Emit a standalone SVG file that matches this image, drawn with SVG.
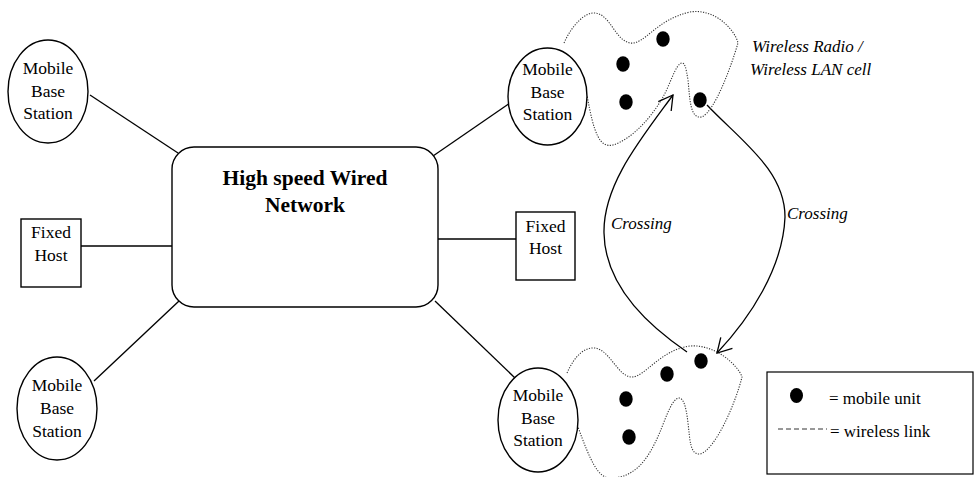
<svg xmlns="http://www.w3.org/2000/svg" width="975" height="477" viewBox="0 0 975 477">
<style>
.shape{fill:#fff;stroke:#000;stroke-width:1.4}
.ln{fill:none;stroke:#000;stroke-width:1.3}
.cell{fill:none;stroke:#333;stroke-width:1.1;stroke-dasharray:1.2 1.4}
.dot{fill:#000}
text{font-family:"Liberation Serif","Times New Roman",serif;fill:#000}
.t{font-size:17.5px;text-anchor:middle}
.it{font-size:17px;font-style:italic}
.b{font-size:21.5px;font-weight:bold;text-anchor:middle}
.lg{font-size:17px}
</style>
<defs>
<marker id="chev" markerUnits="userSpaceOnUse" markerWidth="24" markerHeight="24" viewBox="-18 -12 24 24" refX="0" refY="0" orient="auto">
<path d="M-14,-8 L0,0 L-14,8" fill="none" stroke="#000" stroke-width="1.3"/>
</marker>
</defs>
<rect width="975" height="477" fill="#fff"/>
<g id="connectors">
<line class="ln" x1="90" y1="95" x2="178" y2="153"/>
<line class="ln" x1="81" y1="246" x2="172" y2="246"/>
<line class="ln" x1="94" y1="381" x2="179" y2="301"/>
<line class="ln" x1="433" y1="156" x2="510" y2="103"/>
<line class="ln" x1="438" y1="239" x2="516" y2="239"/>
<line class="ln" x1="435" y1="301" x2="515" y2="378"/>
<path class="ln" d="M687,352 C655,330 605,290 604,233 C603,185 640,140 673,95" marker-end="url(#chev)"/>
<path class="ln" d="M707,105 C740,140 785,170 785,217 C783,268 750,318 717,353" marker-end="url(#chev)"/>
</g>
<g id="network">
<rect class="shape" x="172" y="147" width="266" height="160" rx="22" ry="22"/>
<text class="b" x="305" y="185">High speed Wired</text>
<text class="b" x="305" y="212">Network</text>
</g>
<g id="mbs-top-left">
<ellipse class="shape" cx="48" cy="91.5" rx="40" ry="51.5"/>
<text class="t" x="48" y="74">Mobile</text>
<text class="t" x="48" y="96.5">Base</text>
<text class="t" x="48" y="119">Station</text>
</g>
<g id="fixed-host-left">
<rect class="shape" x="21" y="219" width="60" height="68"/>
<text class="t" x="51" y="238">Fixed</text>
<text class="t" x="51" y="261">Host</text>
</g>
<g id="mbs-bottom-left">
<ellipse class="shape" cx="57" cy="408.5" rx="40" ry="51.5"/>
<text class="t" x="57" y="391">Mobile</text>
<text class="t" x="57" y="414">Base</text>
<text class="t" x="57" y="437">Station</text>
</g>
<g id="cell-top">
<path class="cell" d="M564,43 C572,25 585,12 595,13 C610,14 615,40 630,43 C645,45 655,20 690,12 C715,8 735,30 738,43 C730,70 715,110 702,117 C690,119 690,100 688,80 C686,68 685,63 682,63 C676,63 670,85 663,97 C650,120 630,140 613,145 C600,148 594,135 587,95"/>
<ellipse class="dot" cx="663" cy="39" rx="6.7" ry="7.8"/>
<ellipse class="dot" cx="623" cy="64" rx="6.7" ry="7.8"/>
<ellipse class="dot" cx="626" cy="102" rx="6.7" ry="7.8"/>
<ellipse class="dot" cx="700" cy="100" rx="6.7" ry="7.8"/>
<text class="it" x="752" y="52">Wireless Radio /</text>
<text class="it" x="750" y="75">Wireless LAN cell</text>
</g>
<g id="mbs-top-right">
<ellipse class="shape" cx="547.5" cy="96.5" rx="39.5" ry="48.5"/>
<text class="t" x="547.5" y="75">Mobile</text>
<text class="t" x="547.5" y="97.5">Base</text>
<text class="t" x="547.5" y="120">Station</text>
</g>
<g id="fixed-host-right">
<rect class="shape" x="516" y="212" width="59" height="68"/>
<text class="t" x="545.5" y="232">Fixed</text>
<text class="t" x="545.5" y="254">Host</text>
</g>
<g id="cell-bottom">
<path class="cell" d="M567,373 C575,355 585,347 595,348 C610,350 618,377 632,377 C645,377 660,350 690,346 C715,344 738,365 742,377 C735,405 715,450 700,454 C690,455 690,440 688,423 C686,405 683,398 679,398 C672,398 665,420 660,432 C648,460 635,478 610,478 C598,478 590,460 578,427"/>
<ellipse class="dot" cx="701" cy="361" rx="6.7" ry="7.8"/>
<ellipse class="dot" cx="667" cy="374" rx="6.7" ry="7.8"/>
<ellipse class="dot" cx="626" cy="399" rx="6.7" ry="7.8"/>
<ellipse class="dot" cx="629" cy="437" rx="6.7" ry="7.8"/>
</g>
<g id="mbs-bottom-right">
<ellipse class="shape" cx="538" cy="420" rx="40" ry="52"/>
<text class="t" x="538" y="401">Mobile</text>
<text class="t" x="538" y="423.5">Base</text>
<text class="t" x="538" y="446">Station</text>
</g>
<g id="crossing-labels">
<text class="it" x="611" y="229">Crossing</text>
<text class="it" x="787" y="219">Crossing</text>
</g>
<g id="legend">
<rect x="767" y="372" width="206" height="102" fill="#fff" stroke="#000" stroke-width="1.2"/>
<ellipse class="dot" cx="796.5" cy="395.5" rx="6.5" ry="7.5"/>
<text class="lg" x="829" y="404">= mobile unit</text>
<line x1="778" y1="429" x2="827" y2="429" stroke="#333" stroke-width="1" stroke-dasharray="5 3"/>
<text class="lg" x="830" y="437">= wireless link</text>
</g>
</svg>
